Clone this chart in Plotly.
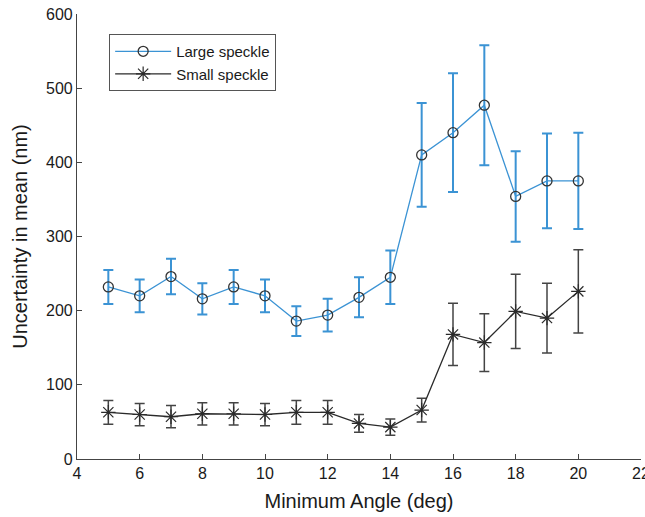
import plotly.graph_objects as go

angles = [5, 6, 7, 8, 9, 10, 11, 12, 13, 14, 15, 16, 17, 18, 19, 20]
large_mean = [232, 220, 246, 216, 232, 220, 186, 194, 218, 245, 410, 440, 477, 354, 375, 375]
large_err = [23, 22, 24, 21, 23, 22, 20, 22, 27, 36, 70, 80, 81, 61, 64, 65]
small_mean = [63, 60, 57, 61, 61, 60, 63, 63, 48, 43, 66, 168, 157, 199, 190, 226]
small_err = [16, 15, 15, 15, 15, 15, 16, 16, 12, 11, 16, 42, 39, 50, 47, 56]

x_ticks = [4, 6, 8, 10, 12, 14, 16, 18, 20, 22]
y_ticks = [0, 100, 200, 300, 400, 500, 600]

blue = "#3b93d4"
dark = "#2a2a2a"

fig = go.Figure()
fig.add_trace(go.Scatter(
    x=angles, y=large_mean, name="Large speckle", mode="lines+markers",
    line=dict(color=blue, width=1.3),
    marker=dict(symbol="circle-open", size=10, color="#333333", line=dict(width=1.3)),
    error_y=dict(type="data", array=large_err, visible=True, color=blue, thickness=2, width=5),
))
fig.add_trace(go.Scatter(
    x=angles, y=small_mean, name="Small speckle", mode="lines+markers",
    line=dict(color=dark, width=1.3),
    marker=dict(symbol="asterisk-open", size=12, color=dark, line=dict(width=1.2, color=dark)),
    error_y=dict(type="data", array=small_err, visible=True, color="#444444", thickness=1.5, width=5),
))

font = "Liberation Sans, Arial, sans-serif"
fig.update_layout(
    width=645, height=517,
    margin=dict(l=77, r=4, t=14, b=58),
    plot_bgcolor="white", paper_bgcolor="white",
    font=dict(family=font, size=16, color="#1a1a1a"),
    showlegend=True,
    legend=dict(
        x=0.057, y=0.955, xanchor="left", yanchor="top",
        bgcolor="white", bordercolor="#555555", borderwidth=1,
        font=dict(size=15, family=font), tracegroupgap=0,
        itemwidth=56,
    ),
    xaxis=dict(
        range=[4, 22], tickvals=x_ticks, ticktext=[str(v) for v in x_ticks],
        ticks="inside", ticklen=5, tickcolor="#444444",
        showline=True, linecolor="#444444", linewidth=1.2,
        showgrid=False, zeroline=False, ticklabeloverflow="allow",
        automargin=False,
        tickfont=dict(size=16),
        title=dict(text="Minimum Angle (deg)", font=dict(size=20), standoff=12),
    ),
    yaxis=dict(
        range=[0, 600], tickvals=y_ticks, ticktext=[str(v) for v in y_ticks],
        ticks="inside", ticklen=5, tickcolor="#444444",
        showline=True, linecolor="#444444", linewidth=1.2,
        showgrid=False, zeroline=False, automargin=False,
        tickfont=dict(size=16),
        title=dict(text="Uncertainty in mean (nm)", font=dict(size=20), standoff=12),
    ),
)

fig.write_html("out.html")
